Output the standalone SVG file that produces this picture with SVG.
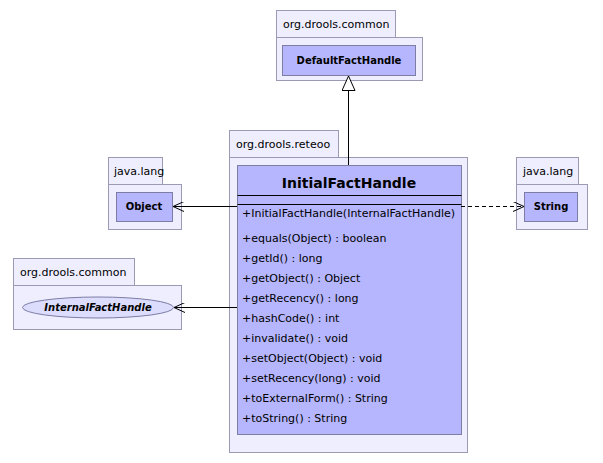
<svg xmlns="http://www.w3.org/2000/svg" width="603" height="463" viewBox="0 0 603 463">
<defs>
<style>
.pkg{fill:#eeeeff;stroke:#9a9ab4;stroke-width:1}
.cls{fill:#b6b6fe;stroke:#7d7da6;stroke-width:1}
.ptxt{font-family:"DejaVu Sans",sans-serif;font-size:11px;fill:#000}
.ctxt{font-family:"DejaVu Sans",sans-serif;font-size:10px;font-weight:bold;fill:#000;text-anchor:middle}
.mtxt{font-family:"DejaVu Sans",sans-serif;font-size:11px;fill:#000}
.ln{stroke:#000;stroke-width:1;fill:none}
</style>
<marker id="open" viewBox="0 0 12 10" refX="11" refY="5" markerWidth="12" markerHeight="10" markerUnits="userSpaceOnUse" orient="auto">
<path d="M0,0 L11,5 L0,10" fill="none" stroke="#000" stroke-width="1"/>
</marker>
<marker id="tri" viewBox="0 0 16 14" refX="15" refY="7" markerWidth="16" markerHeight="14" markerUnits="userSpaceOnUse" orient="auto">
<path d="M0.5,0.5 L15,7 L0.5,13.5 Z" fill="#fff" stroke="#000" stroke-width="1"/>
</marker>
</defs>
<rect width="603" height="463" fill="#fff"/>

<g id="pkg-default">
<rect class="pkg" x="276.5" y="10.5" width="119" height="27"/>
<rect class="pkg" x="276.5" y="37.5" width="146" height="43"/>
<text class="ptxt" x="283" y="28">org.drools.common</text>
</g>
<g id="DefaultFactHandle">
<rect class="cls" x="282.5" y="45.5" width="133" height="30"/>
<text class="ctxt" x="349" y="64">DefaultFactHandle</text>
</g>

<g id="pkg-reteoo">
<rect class="pkg" x="229.5" y="130.5" width="109" height="27"/>
<rect class="pkg" x="229.5" y="157.5" width="238" height="295"/>
<text class="ptxt" x="236" y="148">org.drools.reteoo</text>
</g>
<g id="InitialFactHandle">
<rect class="cls" x="237.5" y="165.5" width="224" height="269"/>
<text x="349" y="188" font-family="DejaVu Sans, sans-serif" font-size="14" font-weight="bold" text-anchor="middle">InitialFactHandle</text>
<line class="ln" x1="237.5" y1="195.5" x2="461.5" y2="195.5"/>
<line class="ln" x1="237.5" y1="204.5" x2="461.5" y2="204.5"/>
<text class="mtxt" x="242" y="217">+InitialFactHandle(InternalFactHandle)</text>
<text class="mtxt" x="242" y="242">+equals(Object) : boolean</text>
<text class="mtxt" x="242" y="262">+getId() : long</text>
<text class="mtxt" x="242" y="282">+getObject() : Object</text>
<text class="mtxt" x="242" y="302">+getRecency() : long</text>
<text class="mtxt" x="242" y="322">+hashCode() : int</text>
<text class="mtxt" x="242" y="342">+invalidate() : void</text>
<text class="mtxt" x="242" y="362">+setObject(Object) : void</text>
<text class="mtxt" x="242" y="382">+setRecency(long) : void</text>
<text class="mtxt" x="242" y="402">+toExternalForm() : String</text>
<text class="mtxt" x="242" y="422">+toString() : String</text>
</g>

<g id="pkg-javalang-1">
<rect class="pkg" x="108.5" y="157.5" width="54" height="27"/>
<rect class="pkg" x="108.5" y="184.5" width="73" height="45"/>
<text class="ptxt" x="114" y="175">java.lang</text>
</g>
<g id="Object">
<rect class="cls" x="116.5" y="192.5" width="56" height="29"/>
<text class="ctxt" x="144" y="210">Object</text>
</g>

<g id="pkg-javalang-2">
<rect class="pkg" x="516.5" y="157.5" width="62" height="27"/>
<rect class="pkg" x="516.5" y="184.5" width="71" height="45"/>
<text class="ptxt" x="523" y="175">java.lang</text>
</g>
<g id="String">
<rect class="cls" x="524.5" y="192.5" width="53" height="29"/>
<text class="ctxt" x="551" y="210">String</text>
</g>

<g id="pkg-common-2">
<rect class="pkg" x="13.5" y="258.5" width="121" height="27"/>
<rect class="pkg" x="13.5" y="285.5" width="168" height="44"/>
<text class="ptxt" x="20" y="276">org.drools.common</text>
</g>
<g id="InternalFactHandle">
<ellipse cx="98" cy="307.5" rx="75.5" ry="10.5" fill="#dcdcfc" stroke="#7d7da6" stroke-width="1"/>
<text class="ctxt" x="98" y="311" font-style="italic">InternalFactHandle</text>
</g>

<g id="connectors">
<line class="ln" x1="348.5" y1="165" x2="348.5" y2="76" marker-end="url(#tri)"/>
<line class="ln" x1="237" y1="206.5" x2="173" y2="206.5" marker-end="url(#open)"/>
<line class="ln" x1="461" y1="206.5" x2="524" y2="206.5" stroke-dasharray="4,3" marker-end="url(#open)"/>
<line class="ln" x1="237" y1="307.5" x2="174" y2="307.5" marker-end="url(#open)"/>
</g>
</svg>
